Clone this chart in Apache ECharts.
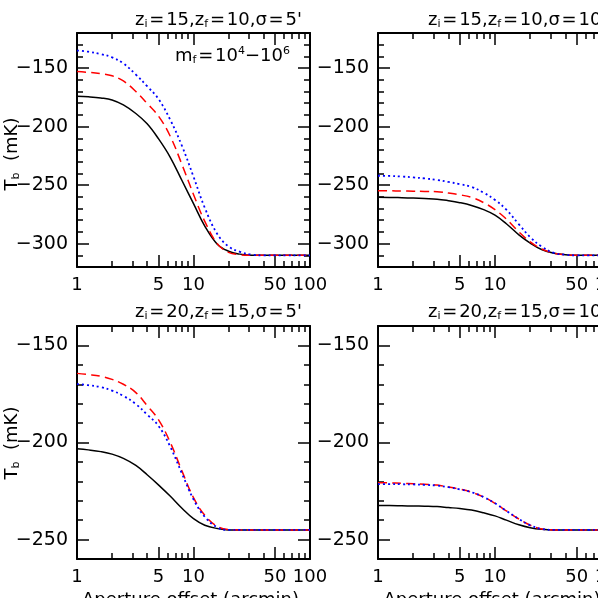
<!DOCTYPE html>
<html>
<head>
<meta charset="utf-8">
<script src="https://cdn.jsdelivr.net/npm/echarts@6/dist/echarts.min.js"></script>
<style>
  html, body { margin: 0; padding: 0; background: #fff; }
  #chart { width: 598px; height: 598px; }
</style>
</head>
<body>
<div id="chart"></div>
<script>
// aperture offset (arcmin) sample points, roughly even in log space
const apertures = [1, 1.25, 1.6, 2, 2.5, 3.2, 4, 5, 6.3, 8, 10, 12.5, 16, 20, 25, 32, 40, 50, 63, 80, 100];

// zi=15, zf=10, sigma=5'
const solid1  = [-174, -174.5, -175.5, -177.2, -181.5, -188.8, -197.6, -210.3, -226, -246.5, -265.8, -285, -300.5, -306.5, -309, -310, -310, -310, -310, -310, -310];
const dashed1 = [-153, -153.6, -154.8, -156.6, -161, -170, -180.2, -191, -208, -233, -258, -281, -300, -307.5, -309.5, -310, -310, -310, -310, -310, -310];
const dotted1 = [-135, -136, -138, -140.8, -146, -155.5, -165.5, -176.3, -194, -217, -242.8, -269.4, -291.8, -302.5, -307, -309.5, -310, -310, -310, -310, -310];

// zi=15, zf=10, sigma=10'
const solid2  = [-260.4, -260.5, -260.8, -261.1, -261.5, -262, -263.3, -265, -267.4, -271, -275.6, -283, -292.5, -299.5, -305, -308.2, -309.5, -310, -310, -310, -310];
const dashed2 = [-254.8, -254.9, -255, -255.2, -255.4, -255.6, -256.8, -258.3, -260.5, -265, -271, -279, -290, -298.5, -304.5, -308.2, -309.5, -310, -310, -310, -310];
const dotted2 = [-242, -242.2, -242.7, -243.4, -244.3, -245.6, -247.3, -249.2, -251.5, -256.5, -262.7, -271, -283.5, -294.5, -302.5, -308, -309.5, -310, -310, -310, -310];

// zi=20, zf=15, sigma=5'
const solid3  = [-203.2, -203.8, -204.7, -206, -208.2, -211.8, -216.6, -221.8, -227.6, -234, -239.2, -242.6, -244.3, -245, -245, -245, -245, -245, -245, -245, -245];
const dashed3 = [-164.4, -165, -165.9, -167.5, -170, -174.3, -181, -188.2, -199.8, -215, -228.4, -237.5, -243.2, -244.8, -245, -245, -245, -245, -245, -245, -245];
const dotted3 = [-169.9, -170.5, -171.5, -173.3, -176, -180.2, -185.6, -191.4, -202, -216.3, -229.3, -238.3, -243.7, -245, -245, -245, -245, -245, -245, -245, -245];

// zi=20, zf=15, sigma=10'
const solid4  = [-232.5, -232.5, -232.6, -232.7, -232.8, -233, -233.5, -234, -234.8, -236.2, -237.8, -240, -242.4, -243.9, -244.7, -245, -245, -245, -245, -245, -245];
const dashed4 = [-220.7, -220.8, -221, -221.2, -221.5, -221.9, -222.9, -224, -225.6, -228.1, -231.3, -235.2, -239.4, -242.6, -244.5, -245, -245, -245, -245, -245, -245];
const dotted4 = [-221.4, -221.4, -221.5, -221.6, -221.8, -222.2, -223, -224.1, -225.6, -228.1, -231.3, -235.2, -239.4, -242.6, -244.5, -245, -245, -245, -245, -245, -245];

// tick values
const xMajorTicks = [1, 5, 10, 50, 100];
const xMinorTicks = [2, 3, 4, 6, 7, 8, 9, 20, 30, 40, 60, 70, 80, 90];
const yMajorTop = [-300, -250, -200, -150];
const yMajorBottom = [-250, -200, -150];

const FONT = 'DejaVu Sans';
const HS = '\u200a'; // hair space around "="
const sub = { fontSize: 11, fontFamily: FONT, color: '#000', padding: [9, 0, 0, 0] };
const sup = { fontSize: 11, fontFamily: FONT, color: '#000', padding: [0, 0, 9, 0] };

function panelTitle(zi, zf, sig) {
    const eq = HS + '=' + HS;
    return 'z{sub|i}' + eq + zi + ',z{sub|f}' + eq + zf + ',σ' + eq + sig + "'";
}

const panels = [
    { grid: { left: 77, top: 33, width: 233, height: 234 }, yMin: -320, yMax: -120, yMajor: yMajorTop,
      lines: [solid1, dashed1, dotted1], title: panelTitle(15, 10, 5), titleLeft: 135, titleTop: 10, yNameY: 154 },
    { grid: { left: 378, top: 33, width: 234, height: 234 }, yMin: -320, yMax: -120, yMajor: yMajorTop,
      lines: [solid2, dashed2, dotted2], title: panelTitle(15, 10, 10), titleLeft: 428, titleTop: 10 },
    { grid: { left: 77, top: 326, width: 233, height: 233 }, yMin: -260, yMax: -140, yMajor: yMajorBottom,
      lines: [solid3, dashed3, dotted3], title: panelTitle(20, 15, 5), titleLeft: 135, titleTop: 302, yNameY: 443, xName: true },
    { grid: { left: 378, top: 326, width: 234, height: 233 }, yMin: -260, yMax: -140, yMajor: yMajorBottom,
      lines: [solid4, dashed4, dotted4], title: panelTitle(20, 15, 10), titleLeft: 428, titleTop: 302, xName: true },
];

const lineStyles = [
    { color: '#000000', width: 1.5, type: 'solid' },
    { color: '#ff0000', width: 1.5, type: [9, 5] },
    { color: '#0000ff', width: 1.8, type: [2, 3] },
];

const log10 = v => Math.log10(v);

const grids = [], xAxes = [], yAxes = [], series = [], titles = [], graphics = [];

panels.forEach((p, i) => {
    grids.push(Object.assign({ outerBoundsMode: 'none', containLabel: false }, p.grid));

    const xBase = { type: 'value', gridIndex: i, min: 0, max: 2, splitLine: { show: false } };
    const axisLineOn = { show: true, onZero: false, lineStyle: { color: '#000', width: 2 } };
    const axisLineOff = { show: false, onZero: false };

    ['bottom', 'top'].forEach(pos => {
        xAxes.push(Object.assign({}, xBase, {
            position: pos,
            axisLine: axisLineOn,
            axisTick: { show: true, inside: true, length: 12, customValues: xMajorTicks.map(log10), lineStyle: { color: '#000', width: 1.5 } },
            axisLabel: pos === 'bottom' ? {
                show: true, customValues: xMajorTicks.map(log10), margin: 9,
                fontSize: 18, fontFamily: FONT, color: '#000',
                formatter: v => String(Math.round(Math.pow(10, v)))
            } : { show: false }
        }));
        xAxes.push(Object.assign({}, xBase, {
            position: pos,
            axisLine: axisLineOff,
            axisTick: { show: true, inside: true, length: 6, customValues: xMinorTicks.map(log10), lineStyle: { color: '#000', width: 1.5 } },
            axisLabel: { show: false }
        }));
    });

    const yBase = { type: 'value', gridIndex: i, min: p.yMin, max: p.yMax, splitLine: { show: false } };
    ['left', 'right'].forEach(pos => {
        yAxes.push(Object.assign({}, yBase, {
            position: pos,
            axisLine: axisLineOn,
            axisTick: { show: true, inside: true, length: 12, customValues: p.yMajor, lineStyle: { color: '#000', width: 1.5 } },
            axisLabel: pos === 'left' ? {
                show: true, customValues: p.yMajor, margin: 9,
                fontSize: 19, fontFamily: FONT, color: '#000',
                formatter: v => '\u2212' + Math.abs(v)
            } : { show: false }
        }));
        yAxes.push(Object.assign({}, yBase, {
            position: pos,
            interval: 10,
            axisLine: axisLineOff,
            axisTick: { show: true, inside: true, length: 6, lineStyle: { color: '#000', width: 1.5 } },
            axisLabel: { show: false }
        }));
    });

    p.lines.forEach((vals, k) => {
        series.push({
            type: 'line',
            xAxisIndex: i * 4,
            yAxisIndex: i * 4,
            data: apertures.map((a, j) => [log10(a), vals[j]]),
            showSymbol: false,
            smooth: 0.4,
            lineStyle: lineStyles[k],
            z: 2 + k
        });
    });

    titles.push({
        text: p.title, left: p.titleLeft, top: p.titleTop, padding: 0,
        textStyle: { fontSize: 18, fontWeight: 'normal', fontFamily: FONT, color: '#000', rich: { sub: sub } }
    });

    // y-axis title, rotated, only on the left column
    if (p.yNameY) {
        graphics.push({
            type: 'text',
            x: 12,
            y: p.yNameY,
            rotation: Math.PI / 2,
            style: {
                text: 'T{sub|b}  (mK)',
                fontSize: 18,
                fontFamily: FONT,
                fill: '#000',
                rich: { sub: sub },
                align: 'center',
                verticalAlign: 'middle'
            }
        });
    }

    // x-axis title, mostly cut off by the bottom edge like the original
    if (p.xName) {
        graphics.push({
            type: 'text',
            x: p.grid.left + p.grid.width / 2 - 3,
            y: 591,
            style: {
                text: 'Aperture offset (arcmin)',
                fontSize: 18,
                fontFamily: FONT,
                fill: '#000',
                align: 'center',
                verticalAlign: 'top'
            }
        });
    }
});

titles.push({
    text: 'm{sub|f}' + HS + '=' + HS + '10{sup|4}\u221210{sup|6}', left: 175, top: 46, padding: 0,
    textStyle: { fontSize: 18, fontWeight: 'normal', fontFamily: FONT, color: '#000', rich: { sub: sub, sup: sup } }
});

const chart = echarts.init(document.getElementById('chart'));
chart.setOption({
    animation: false,
    backgroundColor: '#fff',
    title: titles,
    grid: grids,
    xAxis: xAxes,
    yAxis: yAxes,
    series: series,
    graphic: graphics
});
</script>
</body>
</html>
